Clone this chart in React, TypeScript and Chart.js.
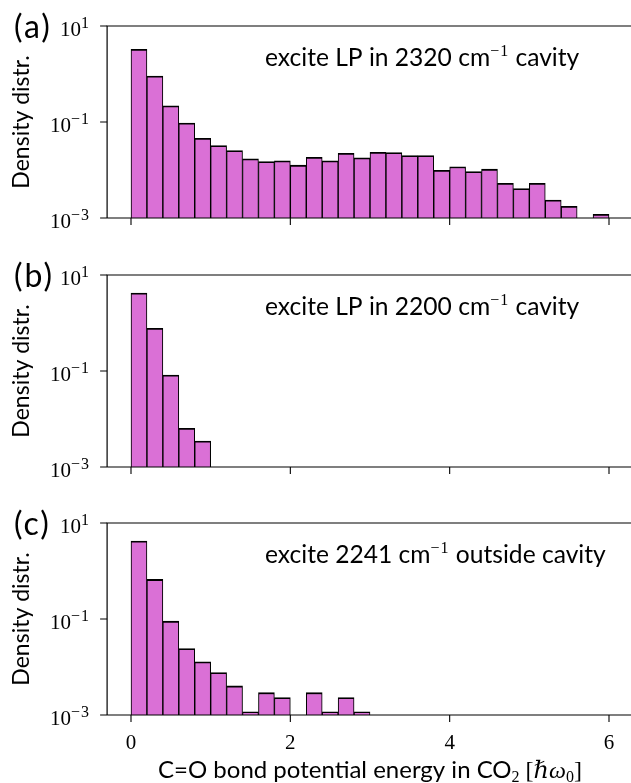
import React, { useEffect, useRef } from "react";
import { Chart, registerables } from "chart.js";

Chart.register(...registerables);

// Histogram bins: left edges, width 0.2 ħω0
const binEdges = [
  0, 0.2, 0.4, 0.6, 0.8, 1.0, 1.2, 1.4, 1.6, 1.8,
  2.0, 2.2, 2.4, 2.6, 2.8, 3.0, 3.2, 3.4, 3.6, 3.8,
  4.0, 4.2, 4.4, 4.6, 4.8, 5.0, 5.2, 5.4, 5.6, 5.8,
];
const binWidth = 0.2;

// Density of the C=O bond potential energy, one value per bin (null = empty bin)
const densityLP2320 = [
  3.27, 0.91, 0.218, 0.095, 0.0457, 0.0322, 0.0254, 0.0171, 0.015, 0.0155,
  0.0126, 0.0184, 0.0155, 0.0223, 0.0179, 0.0234, 0.0232, 0.02, 0.02, 0.0099,
  0.0117, 0.0093, 0.0104, 0.0053, 0.0041, 0.0053, 0.00236, 0.00175, null, 0.00119,
];
const densityLP2200 = [4.22, 0.777, 0.0826, 0.0064, 0.00348];
const densityOutside = [
  4.21, 0.668, 0.09, 0.0242, 0.01277, 0.00763, 0.00403, 0.00116, 0.00292, 0.0023,
  null, 0.00292, 0.00116, 0.0023, 0.00116,
];

const panelLabels = ["(a)", "(b)", "(c)"];
const panelNotes = [
  { before: "excite LP in 2320 cm", sup: "−1", after: " cavity" },
  { before: "excite LP in 2200 cm", sup: "−1", after: " cavity" },
  { before: "excite 2241 cm", sup: "−1", after: " outside cavity" },
];
const yLabel = "Density distr.";
const xTicks = [0, 2, 4, 6];
const yTicks = [1e-3, 1e-1, 1e1];
const yTickExponents = ["−3", "−1", "1"];

const SANS = '"Lato", "Open Sans", "DejaVu Sans", sans-serif';
const SERIF = '"Liberation Serif", "DejaVu Serif", serif';
const BAR_FILL = "#DA70D6";

const CANVAS_W = 640;
const PLOT_LEFT = 107.1;
const PLOT_RIGHT = 632.9;
const PAD_TOP = 26;
const PANEL_H = 192;
const panelTops = [26, 274.7, 522.7];
const canvasHeights = [248, 248, 287];
const TICK_LEN = 7;

type Run = { text: string; font: string; dy?: number; spacing?: string };

function drawRuns(ctx: CanvasRenderingContext2D, runs: Run[], x: number, y: number, align: "left" | "right" | "center") {
  const c = ctx as any;
  let total = 0;
  const widths = runs.map((r) => {
    ctx.font = r.font;
    c.letterSpacing = r.spacing || "0px";
    const w = ctx.measureText(r.text).width;
    total += w;
    return w;
  });
  let cx = align === "left" ? x : align === "right" ? x - total : x - total / 2;
  ctx.textAlign = "left";
  ctx.textBaseline = "alphabetic";
  runs.forEach((r, i) => {
    ctx.font = r.font;
    c.letterSpacing = r.spacing || "0px";
    ctx.fillText(r.text, cx, y + (r.dy || 0));
    cx += widths[i];
  });
  c.letterSpacing = "0px";
}

function decorPlugin(idx: number, isLast: boolean) {
  return {
    id: "panelDecor",
    afterDraw(chart: any) {
      const { ctx, chartArea } = chart;
      const { top, bottom, left, right } = chartArea;
      const ys = chart.scales.y;
      const xs = chart.scales.x;
      ctx.save();
      ctx.fillStyle = "#000";
      ctx.strokeStyle = "#000";
      ctx.lineWidth = 1.2;

      // frame
      ctx.beginPath();
      ctx.moveTo(left, bottom);
      ctx.lineTo(left, top);
      ctx.lineTo(right, top);
      ctx.lineTo(right, bottom);
      ctx.lineTo(left, bottom);
      ctx.stroke();

      // tick marks (outward)
      ctx.lineWidth = 1.1;
      ctx.beginPath();
      xTicks.forEach((v) => {
        const px = xs.getPixelForValue(v);
        ctx.moveTo(px, bottom);
        ctx.lineTo(px, bottom + TICK_LEN);
      });
      yTicks.forEach((v) => {
        const py = ys.getPixelForValue(v);
        ctx.moveTo(left, py);
        ctx.lineTo(left - TICK_LEN, py);
      });
      ctx.stroke();

      // y tick labels 10^n
      yTicks.forEach((v, k) => {
        const py = ys.getPixelForValue(v);
        drawRuns(
          ctx,
          [
            { text: "10", font: `21px ${SERIF}` },
            { text: yTickExponents[k], font: `16px ${SERIF}`, dy: -8, spacing: "1px" },
          ],
          90,
          py + 9.5,
          "right"
        );
      });

      // panel letter
      drawRuns(ctx, [{ text: panelLabels[idx], font: `32px ${SANS}`, spacing: "2px" }], 14, top + 12, "left");

      // annotation
      const note = panelNotes[idx];
      drawRuns(
        ctx,
        [
          { text: note.before, font: `24.6px ${SANS}` },
          { text: note.sup, font: `16px ${SERIF}`, dy: -10, spacing: "1px" },
          { text: note.after, font: `24.6px ${SANS}` },
        ],
        265,
        top + 40,
        "left"
      );

      // y axis title
      ctx.save();
      ctx.translate(29, (top + bottom) / 2);
      ctx.rotate(-Math.PI / 2);
      ctx.font = `23px ${SANS}`;
      ctx.textAlign = "center";
      ctx.textBaseline = "alphabetic";
      ctx.fillText(yLabel, 0, 0);
      ctx.restore();

      if (isLast) {
        xTicks.forEach((v) => {
          const px = xs.getPixelForValue(v);
          ctx.font = `21px ${SERIF}`;
          ctx.textAlign = "center";
          ctx.textBaseline = "alphabetic";
          ctx.fillText(String(v), px, bottom + 34);
        });
        const cx = (left + right) / 2;
        drawRuns(
          ctx,
          [
            { text: "C=O bond potential energy in CO", font: `24px ${SANS}` },
            { text: "2", font: `16px ${SERIF}`, dy: 4 },
            { text: " [", font: `24px ${SERIF}` },
            { text: "ℏω", font: `italic 24px ${SERIF}` },
            { text: "0", font: `16px ${SERIF}`, dy: 4 },
            { text: "]", font: `24px ${SERIF}` },
          ],
          cx,
          bottom + 63,
          "center"
        );
      }
      ctx.restore();
    },
  };
}

function makeConfig(values: (number | null)[], idx: number, isLast: boolean): any {
  const canvasH = canvasHeights[idx];
  const data = values.map((v, i) => ({ x: binEdges[i] + binWidth / 2, y: v }));
  return {
    type: "bar",
    data: {
      datasets: [
        {
          data,
          backgroundColor: BAR_FILL,
          borderColor: "#000",
          borderWidth: { top: 1.8, left: 1.05, right: 1.05, bottom: 0 },
          borderSkipped: false,
          barPercentage: 1,
          categoryPercentage: 1,
        },
      ],
    },
    options: {
      animation: false,
      responsive: false,
      maintainAspectRatio: false,
      events: [],
      layout: { padding: { top: PAD_TOP, left: 0, right: CANVAS_W - PLOT_RIGHT, bottom: 0 } },
      plugins: { legend: { display: false }, tooltip: { enabled: false }, title: { display: false } },
      scales: {
        x: {
          type: "linear",
          offset: false,
          min: -0.3,
          max: 6.3,
          afterBuildTicks: (s: any) => {
            s.ticks = xTicks.map((v) => ({ value: v }));
          },
          afterFit: (s: any) => {
            s.height = canvasH - PAD_TOP - PANEL_H;
          },
          ticks: { display: false },
          grid: { display: false },
          border: { display: false },
        },
        y: {
          type: "logarithmic",
          min: 1e-3,
          max: 10,
          afterBuildTicks: (s: any) => {
            s.ticks = yTicks.map((v) => ({ value: v }));
          },
          afterFit: (s: any) => {
            s.width = PLOT_LEFT;
          },
          ticks: { display: false },
          grid: { display: false },
          border: { display: false },
        },
      },
    },
    plugins: [decorPlugin(idx, isLast)],
  };
}

function Panel({ values, idx, isLast }: { values: (number | null)[]; idx: number; isLast: boolean }) {
  const ref = useRef<HTMLCanvasElement>(null);
  useEffect(() => {
    if (!ref.current) return;
    const chart = new Chart(ref.current, makeConfig(values, idx, isLast));
    return () => chart.destroy();
  }, [values, idx, isLast]);
  const h = canvasHeights[idx];
  return (
    <canvas
      ref={ref}
      width={CANVAS_W}
      height={h}
      style={{ position: "absolute", left: 0, top: panelTops[idx] - PAD_TOP, width: CANVAS_W, height: h }}
    />
  );
}

export default function App() {
  useEffect(() => {
    document.body.style.margin = "0";
  }, []);
  return (
    <div style={{ position: "absolute", left: 0, top: 0, width: 631, height: 783, overflow: "hidden", background: "#fff" }}>
      <Panel values={densityLP2320} idx={0} isLast={false} />
      <Panel values={densityLP2200} idx={1} isLast={false} />
      <Panel values={densityOutside} idx={2} isLast={true} />
    </div>
  );
}
